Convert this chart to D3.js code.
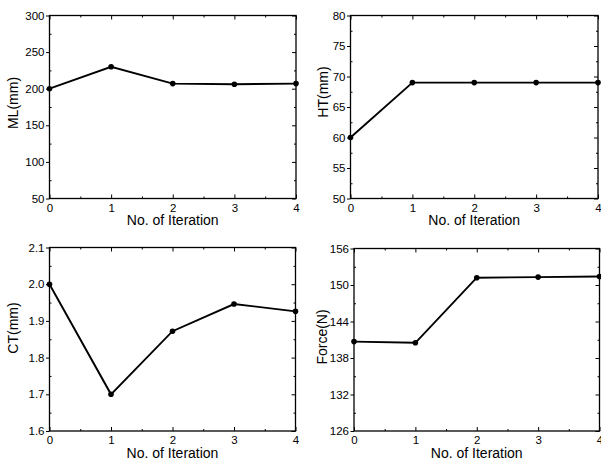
<!DOCTYPE html>
<html>
<head>
<meta charset="utf-8">
<script src="https://cdn.jsdelivr.net/npm/d3@7"></script>
<style>
  body { margin: 0; background: #fff; }
  svg { display: block; }
  text { font-family: Arial, "Liberation Sans", sans-serif; fill: #000; }
</style>
</head>
<body>
<svg id="chart" width="601" height="461"></svg>
<script>
// data
const iterations = [0, 1, 2, 3, 4];
const mlValues = [200, 230, 207, 206, 207];
const htValues = [60, 69, 69, 69, 69];
const ctValues = [2.0, 1.70, 1.872, 1.946, 1.926];
const forceValues = [140.7, 140.5, 151.2, 151.3, 151.4];

const mlTicks = [50, 100, 150, 200, 250, 300];
const htTicks = [50, 55, 60, 65, 70, 75, 80];
const ctTicks = [1.6, 1.7, 1.8, 1.9, 2.0, 2.1];
const forceTicks = [126, 132, 138, 144, 150, 156];

const xLabel = 'No. of Iteration';

// panel boxes (left, right, top, bottom) and y label centre
const panels = [
  { values: mlValues, ticks: mlTicks, label: 'ML(mm)', fmt: d3.format('d'),
    x0: 49.5, x1: 296, y0: 15.5, y1: 198.5, lx: 12.5, ly: 103 },
  { values: htValues, ticks: htTicks, label: 'HT(mm)', fmt: d3.format('d'),
    x0: 350.5, x1: 598, y0: 15.5, y1: 198.5, lx: 323, ly: 92 },
  { values: ctValues, ticks: ctTicks, label: 'CT(mm)', fmt: d3.format('.1f'),
    x0: 49.5, x1: 295.5, y0: 247.5, y1: 431, lx: 13, ly: 328 },
  { values: forceValues, ticks: forceTicks, label: 'Force(N)', fmt: d3.format('d'),
    x0: 354, x1: 599.5, y0: 248.5, y1: 431, lx: 321.5, ly: 337 }
];

const svg = d3.select('#chart');

panels.forEach(p => {
  const x = d3.scaleLinear().domain([0, 4]).range([p.x0, p.x1]);
  const y = d3.scaleLinear()
    .domain([p.ticks[0], p.ticks[p.ticks.length - 1]])
    .range([p.y1, p.y0]);

  const step = p.ticks[1] - p.ticks[0];
  const yMinor = p.ticks.slice(0, -1).map(t => t + step / 2);
  const xMinor = iterations.slice(0, -1).map(t => t + 0.5);

  const g = svg.append('g');

  // frame
  g.append('rect')
    .attr('x', p.x0).attr('y', p.y0)
    .attr('width', p.x1 - p.x0).attr('height', p.y1 - p.y0)
    .attr('fill', 'none').attr('stroke', '#000').attr('stroke-width', 1.3);

  // bottom axis, ticks pointing in
  g.append('g')
    .attr('transform', `translate(0,${p.y1})`)
    .call(d3.axisBottom(x).tickValues(iterations).tickFormat(d3.format('d'))
      .tickSizeInner(-4).tickSizeOuter(0).tickPadding(5))
    .call(a => a.select('.domain').remove())
    .call(a => a.selectAll('text').attr('font-size', 11.5));

  // left axis, major ticks pointing out
  g.append('g')
    .attr('transform', `translate(${p.x0},0)`)
    .call(d3.axisLeft(y).tickValues(p.ticks).tickFormat(p.fmt)
      .tickSizeInner(3.5).tickSizeOuter(0).tickPadding(1.5))
    .call(a => a.select('.domain').remove())
    .call(a => a.selectAll('text').attr('font-size', 11.5));

  // top and right: ticks only
  g.append('g')
    .attr('transform', `translate(0,${p.y0})`)
    .call(d3.axisTop(x).tickValues(iterations).tickFormat('')
      .tickSizeInner(-4).tickSizeOuter(0))
    .call(a => a.select('.domain').remove());
  g.append('g')
    .attr('transform', `translate(${p.x1},0)`)
    .call(d3.axisRight(y).tickValues(p.ticks).tickFormat('')
      .tickSizeInner(-4).tickSizeOuter(0))
    .call(a => a.select('.domain').remove());

  // minor ticks on all four sides
  [[d3.axisBottom(x), p.y1, xMinor, true], [d3.axisTop(x), p.y0, xMinor, true],
   [d3.axisLeft(y), p.x0, yMinor, false], [d3.axisRight(y), p.x1, yMinor, false]]
    .forEach(([ax, pos, vals, horiz]) => {
      g.append('g')
        .attr('transform', horiz ? `translate(0,${pos})` : `translate(${pos},0)`)
        .call(ax.tickValues(vals).tickFormat('').tickSizeInner(-2).tickSizeOuter(0))
        .call(a => a.select('.domain').remove());
    });

  g.selectAll('.tick line').attr('stroke', '#000').attr('stroke-width', 1);

  // x label
  g.append('text')
    .attr('x', (p.x0 + p.x1) / 2)
    .attr('y', p.y1 + 26.7)
    .attr('text-anchor', 'middle')
    .attr('font-size', 14)
    .text(xLabel);

  // y label
  g.append('text')
    .attr('transform', `translate(${p.lx},${p.ly}) rotate(-90)`)
    .attr('dy', '0.36em')
    .attr('text-anchor', 'middle')
    .attr('font-size', 14)
    .text(p.label);

  // series
  const line = d3.line().x((d, i) => x(iterations[i])).y(d => y(d));
  g.append('path')
    .datum(p.values)
    .attr('d', line)
    .attr('fill', 'none')
    .attr('stroke', '#000')
    .attr('stroke-width', 1.9);

  g.selectAll('circle')
    .data(p.values)
    .join('circle')
    .attr('cx', (d, i) => x(iterations[i]))
    .attr('cy', d => y(d))
    .attr('r', 2.8)
    .attr('fill', '#000');
});
</script>
</body>
</html>
